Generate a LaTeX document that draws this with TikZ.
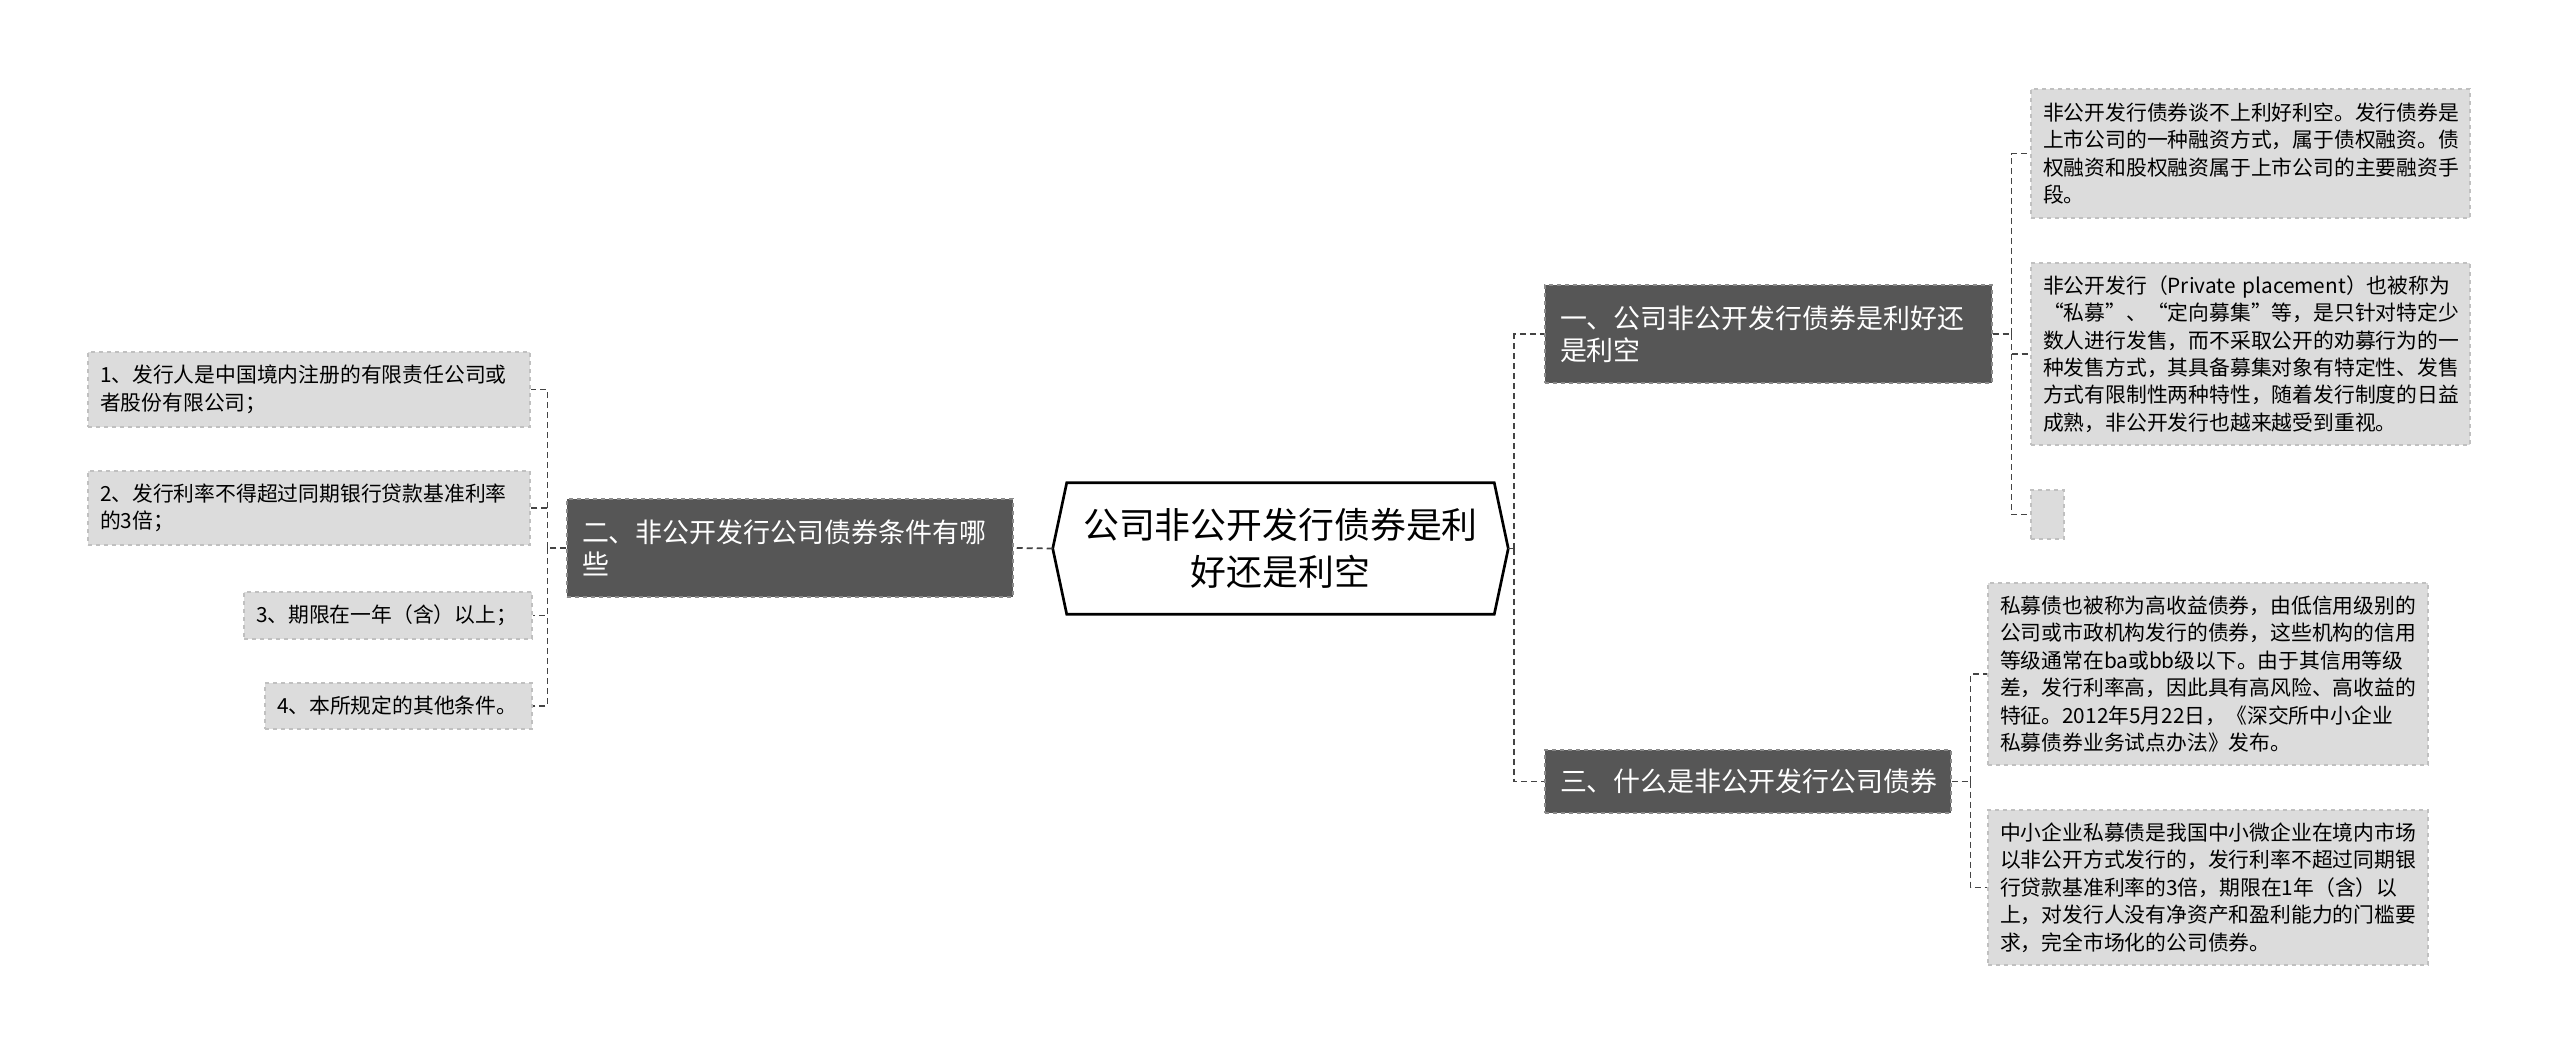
\documentclass[tikz,border=0pt]{standalone}
\usepackage{fontspec}
\setmainfont{Noto Sans CJK SC}
\usetikzlibrary{positioning}

\definecolor{branchfill}{HTML}{565656}
\definecolor{branchline}{HTML}{8A8A8A}
\definecolor{leaffill}{HTML}{DCDCDC}
\definecolor{leafline}{HTML}{C0C0C0}
\definecolor{linkgray}{HTML}{444444}

\newcommand\rootsize{\fontsize{26.9pt}{35.3pt}\selectfont}
\newcommand\branchsize{\fontsize{20.2pt}{24pt}\selectfont}
\newcommand\leafsize{\fontsize{15.6pt}{20.6pt}\selectfont}

\begin{document}
\begin{tikzpicture}[
  x=0.75pt, y=-0.75pt,
  % one unit is one pixel of the 2560 x 1056 canvas
  topic/.style={font=\rootsize, align=center, minimum width=320.25pt,
    minimum height=98.25pt, inner sep=0pt},
  topicline/.style={draw=black, line width=2pt, fill=white},
  branch/.style={font=\branchsize, text=white, align=left, fill=branchfill,
    draw=branchline, dashed, line width=0.8pt, inner xsep=11.25pt,
    minimum height=73.5pt},
  leaf/.style={font=\leafsize, align=left, fill=leaffill, draw=leafline,
    dashed, line width=0.8pt, inner xsep=9pt},
  link/.style={draw=linkgray, line width=1.3pt, dash pattern=on 4.5pt off 3pt}
]
\useasboundingbox (0,0) rectangle (2560,1056);

% central topic
\node[topic] (root) at (1280.5,548.5) {};
\draw[topicline] (root.north west) -- (root.north east) -- ([xshift=10.5pt]root.east)
  -- (root.south east) -- (root.south west) -- ([xshift=-10.5pt]root.west) -- cycle;
\node[topic] at (root.center) {公司非公开发行债券是利\\好还是利空};

% main branches
\node[branch, text width=312.75pt] (good) at (1768.5,334)
  {一、公司非公开发行债券是利好还\\是利空};
\node[branch, text width=312pt] (terms) at (790,548)
  {二、非公开发行公司债券条件有哪\\些};
\node[branch, text width=282pt, minimum height=47.25pt] (what) at (1748,781.5)
  {三、什么是非公开发行公司债券};

% leaves of branch one
\node[leaf, text width=311.25pt, minimum height=96.75pt] (goodA) at (2250.5,153.5)
  {非公开发行债券谈不上利好利空。发行债券是\\上市公司的一种融资方式，属于债权融资。债\\权融资和股权融资属于上市公司的主要融资手\\段。};
\node[leaf, text width=311.25pt, minimum height=136.5pt] (goodB) at (2250.5,354)
  {非公开发行（Private placement）也被称为\\“私募”、“定向募集”等，是只针对特定少\\数人进行发售，而不采取公开的劝募行为的一\\种发售方式，其具备募集对象有特定性、发售\\方式有限制性两种特性，随着发行制度的日益\\成熟，非公开发行也越来越受到重视。};
\node[leaf, minimum width=24.75pt, minimum height=36.75pt, inner sep=0pt] (goodC)
  at (2047.5,514.5) {};

% leaves of branch two
\node[leaf, text width=313.5pt, minimum height=56.25pt] (termsA) at (309,389.5)
  {1、发行人是中国境内注册的有限责任公司或\\者股份有限公司；};
\node[leaf, text width=313.5pt, minimum height=55.5pt] (termsB) at (309,508)
  {2、发行利率不得超过同期银行贷款基准利率\\的3倍；};
\node[leaf, text width=198pt, minimum height=35.25pt] (termsC) at (388,615.5)
  {3、期限在一年（含）以上；};
\node[leaf, text width=182.25pt, minimum height=34.5pt] (termsD) at (398.5,706)
  {4、本所规定的其他条件。};

% leaves of branch three
\node[leaf, text width=312pt, minimum height=136.5pt] (whatA) at (2208,674)
  {私募债也被称为高收益债券，由低信用级别的\\公司或市政机构发行的债券，这些机构的信用\\等级通常在ba或bb级以下。由于其信用等级\\差，发行利率高，因此具有高风险、高收益的\\特征。2012年5月22日，《深交所中小企业\\私募债券业务试点办法》发布。};
\node[leaf, text width=312pt, minimum height=116.25pt] (whatB) at (2208,887.5)
  {中小企业私募债是我国中小微企业在境内市场\\以非公开方式发行的，发行利率不超过同期银\\行贷款基准利率的3倍，期限在1年（含）以\\上，对发行人没有净资产和盈利能力的门槛要\\求，完全市场化的公司债券。};

% junctions
\coordinate (rootR) at ([xshift=15pt]root.east);
\coordinate (termsL) at ([xshift=-14.25pt]terms.west);
\coordinate (goodR) at ([xshift=14.25pt]good.east);
\coordinate (whatR) at ([xshift=14.25pt]what.east);

\draw[link] ([xshift=-10.5pt]root.west) -- (terms.east);
\draw[link] ([xshift=10.5pt]root.east) -- (rootR);
\draw[link] (rootR) |- (good.west);
\draw[link] (rootR) |- (what.west);

\draw[link] (terms.west) -- (termsL);
\foreach \n in {termsA,termsB,termsC,termsD}
  \draw[link] (termsL) |- (\n.east);

\draw[link] (good.east) -- (goodR);
\foreach \n in {goodA,goodB,goodC}
  \draw[link] (goodR) |- (\n.west);

\draw[link] (what.east) -- (whatR);
\foreach \n in {whatA,whatB}
  \draw[link] (whatR) |- (\n.west);
\end{tikzpicture}
\end{document}
